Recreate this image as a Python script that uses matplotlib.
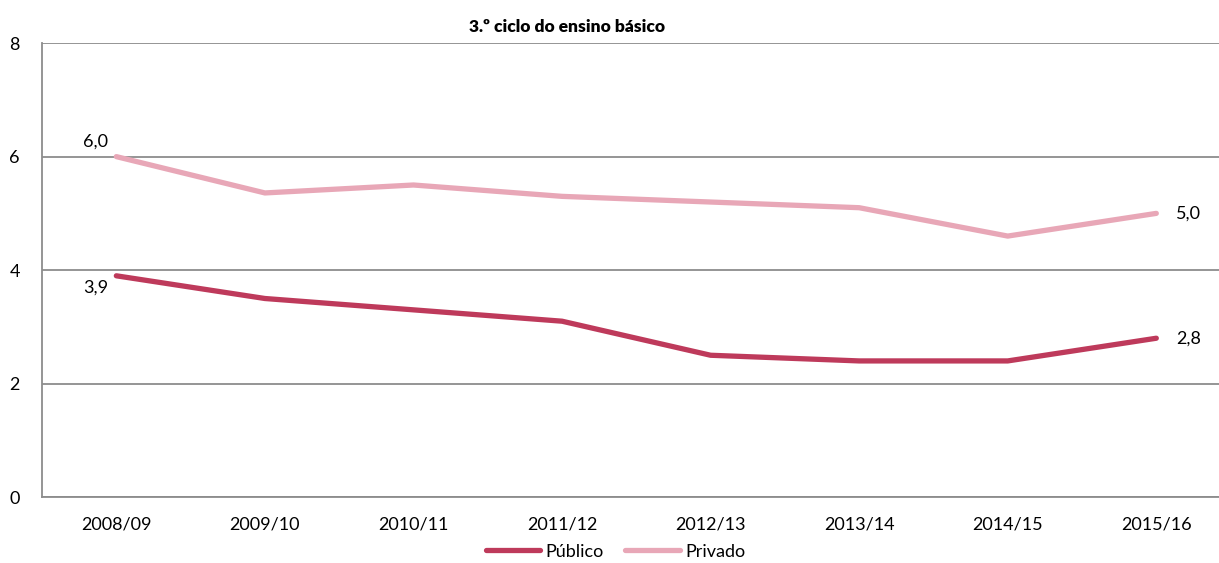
import matplotlib
matplotlib.use('Agg')
import matplotlib.pyplot as plt

plt.rcParams['font.family'] = ['Lato', 'DejaVu Sans']

years = ['2008/09', '2009/10', '2010/11', '2011/12',
         '2012/13', '2013/14', '2014/15', '2015/16']
publico = [3.9, 3.5, 3.3, 3.1, 2.5, 2.4, 2.4, 2.8]
privado = [6.0, 5.36, 5.5, 5.3, 5.2, 5.1, 4.6, 5.0]

C_PUB = '#BE3A5B'
C_PRIV = '#E8A7B7'
GRID = '#8C8C8C'

fig = plt.figure(figsize=(12.19, 5.63), dpi=100)
# plot area runs a little past the right edge of the figure, as in the source
ax = fig.add_axes([0.0345, 0.117, 0.975, 0.8064])

x = list(range(len(years)))
ax.plot(x, publico, color=C_PUB, lw=3.8, solid_capstyle='round', label='Público', zorder=3)
ax.plot(x, privado, color=C_PRIV, lw=3.8, solid_capstyle='round', label='Privado', zorder=3)

ax.set_xlim(-0.5, len(years) - 0.5)
ax.set_ylim(0, 8)
ax.set_yticks([0, 2, 4, 6, 8])
ax.set_xticks(x)
ax.set_xticklabels(years)
ax.tick_params(length=0, labelsize=13, pad=14)
ax.tick_params(axis='y', pad=16)
ax.yaxis.grid(True, color=GRID, lw=1.3)
ax.set_axisbelow(True)
for s in ['top', 'right']:
    ax.spines[s].set_visible(False)
for s in ['left', 'bottom']:
    ax.spines[s].set_color(GRID)
    ax.spines[s].set_linewidth(1.3)

fmt = lambda v: f'{v:.1f}'.replace('.', ',')
ax.annotate(fmt(privado[0]), (x[0], privado[0]), xytext=(-15, 5),
            textcoords='offset points', ha='center', va='bottom', fontsize=13)
ax.annotate(fmt(publico[0]), (x[0], publico[0]), xytext=(-15, -3),
            textcoords='offset points', ha='center', va='top', fontsize=13)
ax.annotate(fmt(privado[-1]), (x[-1], privado[-1]), xytext=(14, 0),
            textcoords='offset points', ha='left', va='center', fontsize=13)
ax.annotate(fmt(publico[-1]), (x[-1], publico[-1]), xytext=(14, 0),
            textcoords='offset points', ha='left', va='center', fontsize=13)

fig.text(0.465, 0.952, '3.º ciclo do ensino básico', ha='center', va='center',
         fontsize=12.5, fontweight='heavy')

fig.legend(loc='center', bbox_to_anchor=(0.505, 0.02), ncol=2, frameon=False,
           fontsize=13, handlelength=3.0, columnspacing=1.2, handletextpad=0.3)

fig.savefig('out.png', dpi=100)
